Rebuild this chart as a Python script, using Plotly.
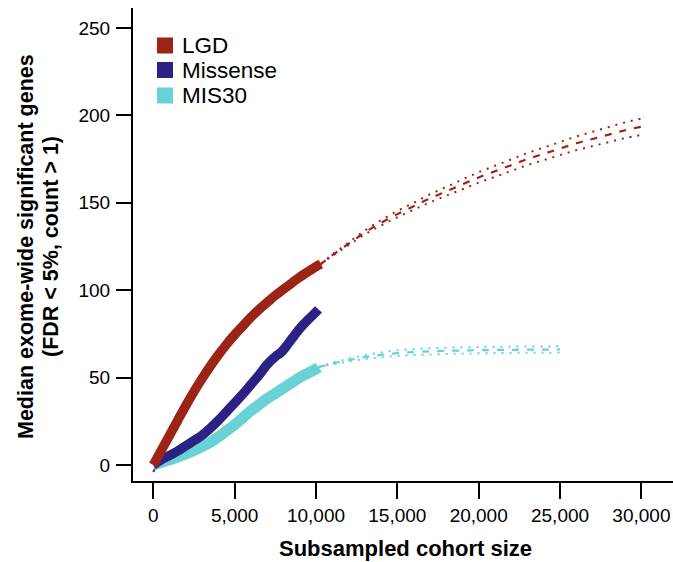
import plotly.graph_objects as go

# ---------------- data ----------------
lgd_x = [0, 500, 1000, 1500, 2000, 2500, 3000, 3500, 4000, 4500, 5000, 5500, 6000,
         6500, 7000, 7500, 8000, 8500, 9000, 9500, 10000, 10300]
lgd_y = [0, 8.5, 17, 25.5, 34, 42, 49.5, 56.5, 63, 69, 74.5, 79.5, 84.5, 89, 93, 97,
         100.5, 104, 107.5, 110.5, 113.5, 115]

mis_x = [0, 500, 1000, 1500, 2000, 2500, 3000, 3500, 4000, 4500, 5000, 5500, 6000,
         6500, 7000, 7500, 7800, 8100, 8500, 9000, 9500, 10000, 10150]
mis_y = [0, 3, 5.5, 8, 11, 14, 17, 21, 25.5, 30.5, 35.5, 40.5, 46, 51.5, 57.5, 62,
         64, 67, 72, 78, 83, 87.5, 89]

m30_x = [0, 500, 1000, 1500, 2000, 2500, 3000, 3500, 4000, 4500, 5000, 5500, 6000,
         6500, 7000, 7500, 8000, 8500, 9000, 9500, 10000, 10150]
m30_y = [0, 1.5, 3, 4.5, 6.3, 8.3, 10.5, 13, 16, 19.5, 23, 27, 31, 34.5, 38, 41, 44,
         47, 50, 52.5, 55, 56]

# extrapolated fits
lgd_fit_x = [0, 2000, 5000, 8000, 10300, 11000, 12000, 13000, 14000, 15000, 16000,
             17000, 18000, 19000, 20000, 21000, 22000, 23000, 24000, 25000, 26000,
             27000, 28000, 29000, 30000]
lgd_fit_y = [-4, 31, 73, 100, 115, 120, 126.5, 133, 138.5, 143.5, 148, 152.5, 156.5,
             160.5, 164.5, 168, 171.5, 175, 178, 181, 184, 186.5, 189, 191.5, 193.5]
lgd_fit_hw = [0, 0, 0, 0, 0, 0.4, 0.8, 1.1, 1.5, 1.8, 2.0, 2.3, 2.5, 2.8, 3.0, 3.15,
              3.3, 3.45, 3.6, 3.75, 3.9, 4.1, 4.3, 4.5, 4.7]

m30_fit_x = [10150, 11000, 12000, 13000, 14000, 15000, 16000, 17000, 18000, 19000,
             20000, 21000, 22000, 23000, 24000, 25000]
m30_fit_y = [56, 58, 60, 61.7, 63, 64, 64.6, 65, 65.3, 65.5, 65.7, 65.8, 65.9, 66,
             66, 66.1]
m30_fit_hw = [0, 0.4, 0.8, 1.1, 1.4, 1.6, 1.7, 1.8, 1.8, 1.8, 1.8, 1.8, 1.8, 1.8,
              1.8, 1.8]

x_ticks = [0, 5000, 10000, 15000, 20000, 25000, 30000]
y_ticks = [0, 50, 100, 150, 200, 250]

names = ["LGD", "Missense", "MIS30"]
C_LGD = "#9b2416"
C_MIS = "#2c2283"
C_M30 = "#68d2d6"
colors = [C_LGD, C_MIS, C_M30]

FONT = "Liberation Sans, Arial, sans-serif"

fig = go.Figure()

# LGD fit (dashed + dotted CI)
lgd_up = [y + h for y, h in zip(lgd_fit_y, lgd_fit_hw)]
lgd_lo = [y - h for y, h in zip(lgd_fit_y, lgd_fit_hw)]
ci_start = 4
for arr in (lgd_up, lgd_lo):
    fig.add_trace(go.Scatter(x=lgd_fit_x[ci_start:], y=arr[ci_start:], mode="lines",
                             line=dict(color=C_LGD, width=2, dash="2px,6px", shape="spline"),
                             showlegend=False, hoverinfo="skip"))
fig.add_trace(go.Scatter(x=lgd_fit_x, y=lgd_fit_y, mode="lines",
                         line=dict(color=C_LGD, width=2.2, dash="7px,8px", shape="spline"),
                         showlegend=False, hoverinfo="skip"))

# MIS30 fit
m30_up = [y + h for y, h in zip(m30_fit_y, m30_fit_hw)]
m30_lo = [y - h for y, h in zip(m30_fit_y, m30_fit_hw)]
for arr in (m30_up, m30_lo):
    fig.add_trace(go.Scatter(x=m30_fit_x, y=arr, mode="lines",
                             line=dict(color=C_M30, width=2, dash="2px,6px", shape="spline"),
                             showlegend=False, hoverinfo="skip"))
fig.add_trace(go.Scatter(x=m30_fit_x, y=m30_fit_y, mode="lines",
                         line=dict(color=C_M30, width=2.2, dash="7px,8px", shape="spline"),
                         showlegend=False, hoverinfo="skip"))

# observed thick bands
fig.add_trace(go.Scatter(x=m30_x, y=m30_y, mode="lines", name="MIS30",
                         line=dict(color=C_M30, width=11, shape="spline"), showlegend=False))
fig.add_trace(go.Scatter(x=mis_x, y=mis_y, mode="lines", name="Missense",
                         line=dict(color=C_MIS, width=9.5, shape="spline"), showlegend=False))
fig.add_trace(go.Scatter(x=lgd_x, y=lgd_y, mode="lines", name="LGD",
                         line=dict(color=C_LGD, width=9.5, shape="spline"), showlegend=False))

# legend (drawn manually)
ML, MR, MT, MB = 133, 0, 8, 81
W, H = 673, 562
pw, ph = W - ML - MR, H - MT - MB


def px2x(px):
    return (px - ML) / pw


def py2y(py):
    return 1 - (py - MT) / ph


shapes = []
annotations = []
leg_centers = [45.5, 70, 95.5]
for name, col, cy in zip(names, colors, leg_centers):
    shapes.append(dict(type="rect", xref="paper", yref="paper",
                       x0=px2x(157), x1=px2x(173), y0=py2y(cy + 8), y1=py2y(cy - 8),
                       fillcolor=col, line=dict(width=0)))
    annotations.append(dict(xref="paper", yref="paper", x=px2x(180), y=py2y(cy),
                            text=name, showarrow=False, xanchor="left", yanchor="middle",
                            font=dict(family=FONT, size=22.5, color="#000")))

# axis titles
annotations.append(dict(xref="paper", yref="paper", x=px2x(405), y=py2y(548),
                        text="<b>Subsampled cohort size</b>", showarrow=False,
                        xanchor="center", yanchor="middle",
                        font=dict(family=FONT, size=22, color="#000")))
annotations.append(dict(xref="paper", yref="paper", x=px2x(26), y=py2y(247),
                        text="<b>Median exome-wide significant genes</b>", showarrow=False,
                        textangle=-90, xanchor="center", yanchor="middle",
                        font=dict(family=FONT, size=21.5, color="#000")))
annotations.append(dict(xref="paper", yref="paper", x=px2x(51), y=py2y(247),
                        text="<b>(FDR &lt; 5%, count &gt; 1)</b>", showarrow=False,
                        textangle=-90, xanchor="center", yanchor="middle",
                        font=dict(family=FONT, size=21.5, color="#000")))

fig.update_layout(
    width=W, height=H,
    margin=dict(l=ML, r=MR, t=MT, b=MB),
    paper_bgcolor="white", plot_bgcolor="white",
    showlegend=False,
    shapes=shapes, annotations=annotations,
    font=dict(family=FONT, size=19, color="#000"),
    xaxis=dict(range=[-1248, 31942], tickvals=x_ticks, tickformat=",d",
               showgrid=False, zeroline=False, showline=True, linecolor="#000",
               linewidth=2, ticks="outside", ticklen=16, tickwidth=2, tickcolor="#000",
               tickfont=dict(family=FONT, size=19, color="#000")),
    yaxis=dict(range=[-9.15, 261.4], tickvals=y_ticks,
               showgrid=False, zeroline=False, showline=True, linecolor="#000",
               linewidth=2, ticks="outside", ticklen=15, tickwidth=2, tickcolor="#000",
               ticklabelstandoff=2,
               tickfont=dict(family=FONT, size=19, color="#000")),
)

fig.write_html("out.html")
